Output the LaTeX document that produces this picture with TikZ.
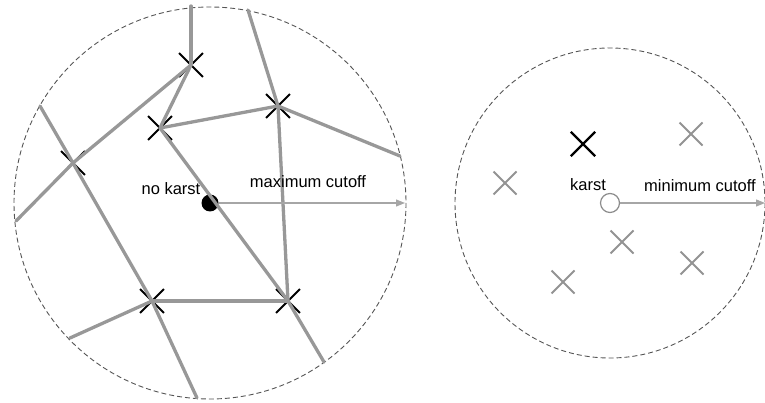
\documentclass[tikz,border=0pt]{standalone}
\usepackage{fontspec}
\setmainfont{Liberation Sans}
\usetikzlibrary{arrows.meta,shapes.misc}
\definecolor{faultgray}{RGB}{152,152,152}
\definecolor{rimgray}{RGB}{85,85,85}

\begin{document}
\begin{tikzpicture}[x=1pt, y=-1pt,
  rim/.style={draw=rimgray, line width=0.9pt, dash pattern=on 5pt off 3pt},
  jct/.style={cross out, draw=black, line width=1.8pt, minimum size=22pt, inner sep=0pt},
  pit/.style={cross out, draw=gray!85, line width=2pt, minimum size=21pt, inner sep=0pt},
  fault/.style={draw=faultgray, line width=3.3pt, line cap=round, line join=round},
  cut/.style={draw=black!35, line width=1.2pt, -{Triangle[length=9pt,width=7pt]}},
  lab/.style={font=\fontsize{16.5}{18}\selectfont, inner sep=0pt, anchor=base},
  >=Latex
]
\useasboundingbox (0,0) rectangle (765,403);

% left: no karst
\draw[rim] (210,203) circle[radius=196];
\node[jct] (fA) at (191,65) {};
\node[jct] (fB) at (160,128) {};
\node[jct] (fC) at (278,106) {};
\node[jct] (fD) at (73,163) {};
\node[jct] (fE) at (152,301) {};
\node[jct] (fF) at (288,301) {};
\node[circle, fill=black, minimum size=17pt, inner sep=0pt] (nokarst) at (210,203) {};
\coordinate (top1) at (191,6);
\coordinate (top2) at (248,10);
\coordinate (lft1) at (40,106);
\coordinate (lft2) at (16,221);
\coordinate (lft3) at (70,338);
\coordinate (rgt1) at (400,156);
\coordinate (bot1) at (197,398);
\coordinate (bot2) at (324,362);
\coordinate (maxend) at (405,203);

\draw[fault] (top1) -- (fA.center);
\draw[fault] (fA.center) -- (fB.center);
\draw[fault] (fA.center) -- (fD.center) -- (lft2);
\draw[fault] (fB.center) -- (fC.center);
\draw[fault] (fC.center) -- (rgt1);
\draw[fault] (top2) -- (fC.center);
\draw[fault] (fC.center) -- (fF.center);
\draw[fault] (fB.center) -- (fF.center) -- (bot2);
\draw[fault] (lft1) -- (fD.center) -- (fE.center) -- (bot1);
\draw[fault] (fE.center) -- (fF.center);
\draw[fault] (fE.center) -- (lft3);

\draw[cut] (nokarst) -- (maxend);
\node[lab] (nklab) at (171,195) {no karst};
\node[lab] (maxlab) at (308,188) {maximum cutoff};

% right: karst
\draw[rim] (610,203) circle[radius=155];
\node[jct, line width=2.4pt] (pK) at (583,144) {};
\node[pit] (p1) at (505,183) {};
\node[pit] (p2) at (691,134) {};
\node[pit] (p3) at (622,242) {};
\node[pit] (p4) at (692,263) {};
\node[pit] (p5) at (563,282) {};
\node[circle, draw=gray!90, fill=white, line width=1.2pt, minimum size=19pt, inner sep=0pt] (karst) at (610,203) {};
\coordinate (minend) at (765,203);
\draw[cut] (karst) -- (minend);
\node[lab] (klab) at (588,191) {karst};
\node[lab] (minlab) at (700,192) {minimum cutoff};
\end{tikzpicture}
\end{document}
